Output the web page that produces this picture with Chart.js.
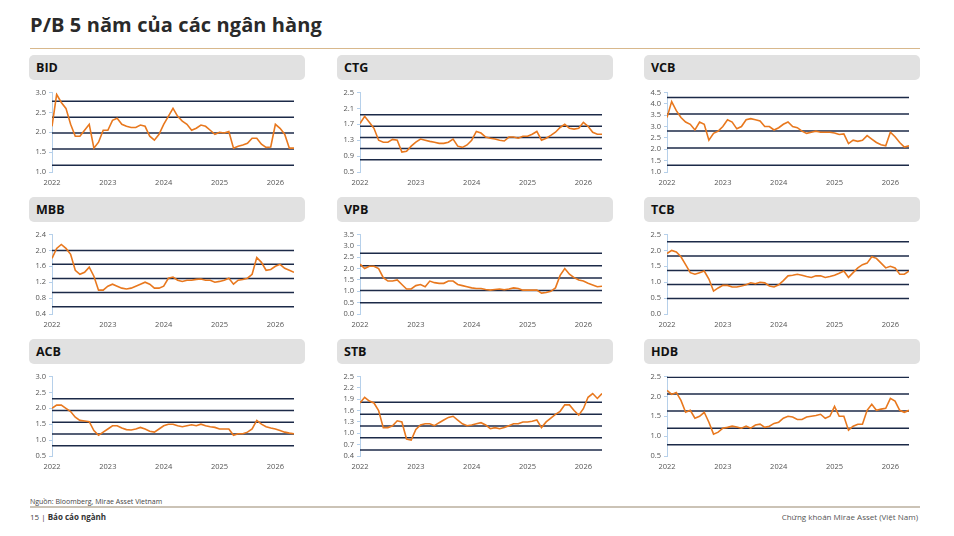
<!DOCTYPE html>
<html>
<head>
<meta charset="utf-8">
<script src="https://cdn.jsdelivr.net/npm/chart.js@4.4.1/dist/chart.umd.min.js"></script>
<style>
  body{margin:0;width:954px;height:536px;background:#fff;font-family:"Open Sans",sans-serif;position:relative;overflow:hidden}
  .title{position:absolute;left:30px;top:11px;font-size:20px;font-weight:700;color:#2a2a2a;letter-spacing:0.1px}
  .rule{position:absolute;left:30px;width:890px;top:48px;height:1px;background:#d8b88c}
  .bar{position:absolute;width:276px;height:25px;background:#e1e1e1;border-radius:5px}
  .bar span{position:absolute;left:7px;top:4px;font-size:12.5px;font-weight:700;color:#111}
  .box{position:absolute;width:276px;height:103px}
  .src{position:absolute;left:30px;top:497px;font-size:7px;color:#444}
  .frule{position:absolute;left:30px;width:890px;top:506px;height:2px;background:#cbc3b6}
  .pg{position:absolute;left:30px;top:511px;font-size:8px;color:#444}
  .pg b{color:#333}
  .co{position:absolute;right:36px;top:511px;font-size:8px;color:#555}
</style>
</head>
<body>
<div class="title">P/B 5 năm của các ngân hàng</div>
<div class="rule"></div>
<div id="panels"></div>
<div class="src">Nguồn: Bloomberg, Mirae Asset Vietnam</div>
<div class="frule"></div>
<div class="pg">15 | <b>Báo cáo ngành</b></div>
<div class="co">Chứng khoán Mirae Asset (Việt Nam)</div>
<script>
// ---------- data (monthly, Jan 2022 .. May 2026) ----------
const months = [];
for (let i = 0; i < 53; i++) months.push(2022 + i / 12);
const yearTicks = [2022, 2023, 2024, 2025, 2026];

const banks = ['BID','CTG','VCB','MBB','VPB','TCB','ACB','STB','HDB'];

const bidPB = [2.15,2.95,2.75,2.6,2.2,1.9,1.9,2.05,2.2,1.6,1.75,2.05, 2.05,2.3,2.35,2.2,2.15,2.12,2.12,2.18,2.15,1.9,1.8,1.95, 2.2,2.4,2.6,2.4,2.28,2.2,2.05,2.1,2.18,2.15,2.05,1.95, 2.0,1.98,2.02,1.6,1.65,1.68,1.72,1.85,1.85,1.7,1.62,1.63, 2.2,2.1,1.95,1.6,1.6];
const ctgPB = [1.72,1.9,1.75,1.6,1.3,1.25,1.25,1.32,1.3,1.0,1.02,1.15, 1.25,1.33,1.3,1.27,1.25,1.22,1.22,1.25,1.33,1.15,1.12,1.18, 1.3,1.52,1.48,1.38,1.35,1.33,1.3,1.28,1.38,1.38,1.35,1.4, 1.4,1.45,1.52,1.3,1.35,1.42,1.5,1.62,1.7,1.6,1.58,1.6, 1.75,1.65,1.5,1.45,1.45];
const vcbPB = [3.4,4.1,3.7,3.4,3.2,3.1,2.85,3.2,3.1,2.4,2.7,2.8, 3.0,3.3,3.2,2.9,3.0,3.3,3.35,3.3,3.25,3.0,3.0,2.85, 2.95,3.1,3.2,3.0,2.95,2.8,2.7,2.75,2.8,2.75,2.75,2.75, 2.72,2.65,2.68,2.25,2.4,2.35,2.4,2.6,2.45,2.3,2.2,2.15, 2.75,2.55,2.3,2.1,2.15];
const mbbPB = [1.8,2.05,2.15,2.05,1.9,1.5,1.4,1.45,1.58,1.35,1.0,1.0, 1.1,1.15,1.1,1.05,1.03,1.05,1.1,1.15,1.2,1.15,1.05,1.05, 1.1,1.3,1.33,1.25,1.22,1.25,1.25,1.27,1.28,1.25,1.25,1.2, 1.22,1.25,1.3,1.15,1.25,1.27,1.3,1.4,1.82,1.7,1.5,1.52, 1.6,1.65,1.55,1.5,1.45];
const vpbPB = [2.2,2.0,2.1,2.1,2.0,1.6,1.45,1.45,1.5,1.3,1.1,1.1, 1.25,1.3,1.2,1.45,1.38,1.35,1.35,1.45,1.45,1.3,1.25,1.2, 1.15,1.12,1.12,1.08,1.05,1.08,1.1,1.07,1.1,1.15,1.12,1.05, 1.05,1.05,1.05,0.92,0.95,1.0,1.15,1.7,2.0,1.75,1.6,1.5, 1.45,1.35,1.28,1.2,1.22];
const tcbPB = [1.9,2.0,1.95,1.8,1.55,1.3,1.25,1.3,1.35,1.1,0.72,0.82, 0.9,0.9,0.85,0.85,0.88,0.92,0.98,0.95,1.0,0.98,0.88,0.85, 0.92,1.05,1.2,1.22,1.25,1.22,1.18,1.15,1.2,1.2,1.15,1.18, 1.22,1.28,1.35,1.15,1.3,1.45,1.55,1.6,1.8,1.75,1.6,1.45, 1.5,1.45,1.25,1.25,1.35];
const acbPB = [2.0,2.1,2.1,2.0,1.9,1.72,1.62,1.6,1.58,1.3,1.15,1.25, 1.35,1.45,1.45,1.38,1.33,1.32,1.35,1.4,1.35,1.28,1.25,1.35, 1.45,1.5,1.5,1.45,1.42,1.45,1.48,1.45,1.5,1.45,1.42,1.4, 1.35,1.35,1.35,1.15,1.2,1.2,1.25,1.35,1.62,1.5,1.42,1.38, 1.35,1.3,1.25,1.22,1.2];
const stbPB = [1.8,1.95,1.85,1.8,1.6,1.15,1.15,1.2,1.33,1.3,0.85,0.82, 1.1,1.22,1.25,1.25,1.2,1.28,1.35,1.42,1.45,1.35,1.25,1.2, 1.22,1.25,1.28,1.22,1.12,1.15,1.12,1.15,1.2,1.25,1.25,1.3, 1.3,1.32,1.35,1.15,1.3,1.4,1.5,1.58,1.75,1.75,1.6,1.48, 1.65,1.95,2.05,1.92,2.05];
const hdbPB = [2.15,2.05,2.1,1.9,1.6,1.65,1.45,1.5,1.6,1.35,1.05,1.1, 1.2,1.22,1.25,1.23,1.2,1.25,1.2,1.28,1.3,1.22,1.25,1.32, 1.35,1.45,1.5,1.48,1.42,1.42,1.48,1.5,1.52,1.55,1.45,1.5, 1.75,1.5,1.5,1.15,1.25,1.3,1.3,1.65,1.8,1.65,1.68,1.7, 1.95,1.88,1.65,1.6,1.65];

// mean +/- 1 and 2 std dev lines
const bidBands = [2.78,2.38,1.98,1.58,1.17];
const ctgBands = [1.94,1.65,1.37,1.09,0.81];
const vcbBands = [4.28,3.55,2.81,2.06,1.30];
const mbbBands = [2.00,1.65,1.29,0.94,0.58];
const vpbBands = [2.68,2.12,1.58,1.03,0.49];
const tcbBands = [2.27,1.82,1.37,0.93,0.49];
const acbBands = [2.30,1.93,1.56,1.19,0.82];
const stbBands = [1.82,1.50,1.19,0.88,0.56];
const hdbBands = [2.48,2.06,1.63,1.20,0.78];

// y tick labels
const bidTicks = [1.0,1.5,2.0,2.5,3.0];
const ctgTicks = [0.5,0.9,1.3,1.7,2.1,2.5];
const vcbTicks = [1.0,1.5,2.0,2.5,3.0,3.5,4.0,4.5];
const mbbTicks = [0.4,0.8,1.2,1.6,2.0,2.4];
const vpbTicks = [0.0,0.5,1.0,1.5,2.0,2.5,3.0,3.5];
const tcbTicks = [0.0,0.5,1.0,1.5,2.0,2.5];
const acbTicks = [0.5,1.0,1.5,2.0,2.5,3.0];
const stbTicks = [0.4,0.7,1.0,1.3,1.6,1.9,2.2,2.5];
const hdbTicks = [0.5,1.0,1.5,2.0,2.5];

const seriesList = [bidPB, ctgPB, vcbPB, mbbPB, vpbPB, tcbPB, acbPB, stbPB, hdbPB];
const bandsList  = [bidBands, ctgBands, vcbBands, mbbBands, vpbBands, tcbBands, acbBands, stbBands, hdbBands];
const ticksList  = [bidTicks, ctgTicks, vcbTicks, mbbTicks, vpbTicks, tcbTicks, acbTicks, stbTicks, hdbTicks];

// ---------- layout ----------
const colLeft = [29, 337, 644];
const rowTop  = [55, 197, 339];

const holder = document.getElementById('panels');

banks.forEach((name, k) => {
  const L = colLeft[k % 3], T = rowTop[Math.floor(k / 3)];
  const bar = document.createElement('div');
  bar.className = 'bar';
  bar.style.left = L + 'px'; bar.style.top = T + 'px';
  bar.innerHTML = '<span>' + name + '</span>';
  holder.appendChild(bar);

  const box = document.createElement('div');
  box.className = 'box';
  box.style.left = L + 'px'; box.style.top = (T + 30) + 'px';
  const cv = document.createElement('canvas');
  box.appendChild(cv);
  holder.appendChild(box);

  makeChart(cv, seriesList[k], bandsList[k], ticksList[k]);
});

function makeChart(cv, vals, bands, yt){
  const xEnd = months[months.length - 1];
  const datasets = [{
    data: vals.map((v, i) => ({x: months[i], y: v})),
    borderColor: '#e8781e', borderWidth: 1.6, pointRadius: 0, tension: 0
  }];
  bands.forEach(b => {
    datasets.push({
      data: [{x: months[0], y: b}, {x: xEnd, y: b}],
      borderColor: '#1c2a48', borderWidth: 1.5, pointRadius: 0
    });
  });

  new Chart(cv, {
    type: 'line',
    data: { datasets },
    options: {
      responsive: true, maintainAspectRatio: false, animation: false,
      layout: { padding: { top: 7, right: 11, bottom: 0, left: 0 } },
      plugins: { legend: { display: false }, tooltip: { enabled: false } },
      scales: {
        x: {
          type: 'linear', min: months[0], max: xEnd,
          afterBuildTicks: s => { s.ticks = yearTicks.map(v => ({value: v})); },
          afterFit: s => { s.height = 16; },
          grid: { display: false, drawTicks: false }, border: { display: false },
          ticks: { color: '#555', font: { size: 7.5, family: 'Open Sans' }, padding: 6,
                   maxRotation: 0, autoSkip: false, callback: v => String(v) }
        },
        y: {
          min: yt[0], max: yt[yt.length - 1],
          afterBuildTicks: s => { s.ticks = yt.map(v => ({value: v})); },
          afterFit: s => { s.width = 23; },
          grid: { drawOnChartArea: false, drawTicks: true, tickLength: 3, color: '#b6d0ea' },
          border: { display: true, color: '#b6d0ea', width: 1 },
          ticks: { color: '#555', font: { size: 7.5, family: 'Open Sans' }, padding: 3,
                   autoSkip: false, callback: v => Number(v).toFixed(1) }
        }
      }
    }
  });
}
</script>
</body>
</html>
